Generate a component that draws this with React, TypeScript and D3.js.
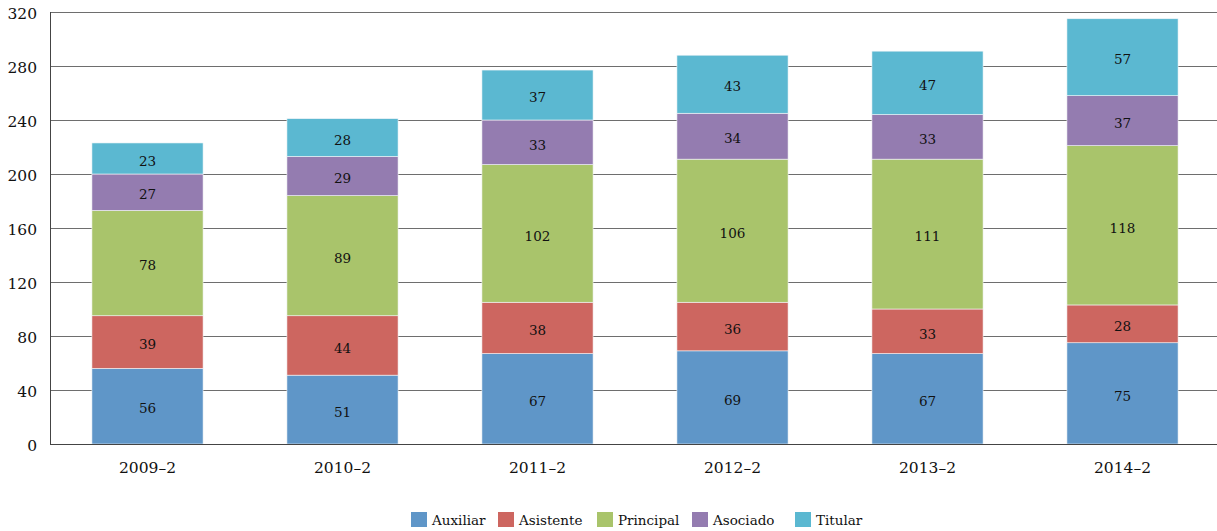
import React from "react";
import * as d3 from "d3";

const categories = ["2009–2", "2010–2", "2011–2", "2012–2", "2013–2", "2014–2"];
const seriesNames = ["Auxiliar", "Asistente", "Principal", "Asociado", "Titular"];
const auxiliar = [56, 51, 67, 69, 67, 75];
const asistente = [39, 44, 38, 36, 33, 28];
const principal = [78, 89, 102, 106, 111, 118];
const asociado = [27, 29, 33, 34, 33, 37];
const titular = [23, 28, 37, 43, 47, 57];
const colors = ["#5F96C8", "#CD6660", "#A9C46B", "#947CB0", "#5BB8D1"];
const yTicks = [0, 40, 80, 120, 160, 200, 240, 280, 320];

const W = 1217;
const H = 531;
const FONT = "'DejaVu Serif', serif";

export default function App() {
  const values = [auxiliar, asistente, principal, asociado, titular];
  const rows = categories.map((c, i) => {
    const r: any = { cat: c };
    seriesNames.forEach((s, k) => (r[s] = values[k][i]));
    return r;
  });
  const stacked = d3.stack<any>().keys(seriesNames)(rows);
  const x = d3.scaleBand().domain(categories).range([50, 1220]).paddingInner(0.43).paddingOuter(0.215);
  const y = d3.scaleLinear().domain([0, 320]).range([444, 12]);

  const legendX = [411, 498, 597, 692, 795];

  return (
    <svg width={W} height={H} style={{ position: "absolute", left: 0, top: 0, fontFamily: FONT }}>
      <rect x={0} y={0} width={W} height={H} fill="#fff" />
      {yTicks.map((t) => (
        <g key={t}>
          {t > 0 && (
            <line x1={50} x2={W} y1={Math.round(y(t)) + 0.5} y2={Math.round(y(t)) + 0.5} stroke="#6e6e6e" strokeWidth={1} />
          )}
          <text x={37} y={y(t) + 2} dy="0.35em" textAnchor="end" fontSize={15.5} fill="#111">
            {t}
          </text>
        </g>
      ))}
      {stacked.map((layer, k) => (
        <g key={layer.key}>
          {layer.map((d, i) => {
            const x0 = x(categories[i])!;
            const y0 = y(d[1]);
            const h = y(d[0]) - y(d[1]);
            return (
              <g key={i}>
                <rect x={x0} y={y0} width={x.bandwidth()} height={h} fill={colors[k]} stroke="#f3f6f8" strokeWidth={0.6} />
                <text x={x0 + x.bandwidth() / 2} y={y0 + h / 2 + 2.5} dy="0.35em" textAnchor="middle" fontSize={13.5} fill="#111">
                  {values[k][i]}
                </text>
              </g>
            );
          })}
        </g>
      ))}
      <line x1={50.5} x2={50.5} y1={12} y2={444} stroke="#444" strokeWidth={1} />
      <line x1={50} x2={W} y1={444.5} y2={444.5} stroke="#444" strokeWidth={1} />
      {categories.map((c) => (
        <text key={c} x={x(c)! + x.bandwidth() / 2} y={468} dy="0.35em" textAnchor="middle" fontSize={15.5} fill="#111">
          {c}
        </text>
      ))}
      {seriesNames.map((s, k) => (
        <g key={s}>
          <rect x={legendX[k]} y={512} width={16} height={15} fill={colors[k]} />
          <text x={legendX[k] + 21} y={520} dy="0.35em" fontSize={13.5} fill="#111">
            {s}
          </text>
        </g>
      ))}
    </svg>
  );
}
